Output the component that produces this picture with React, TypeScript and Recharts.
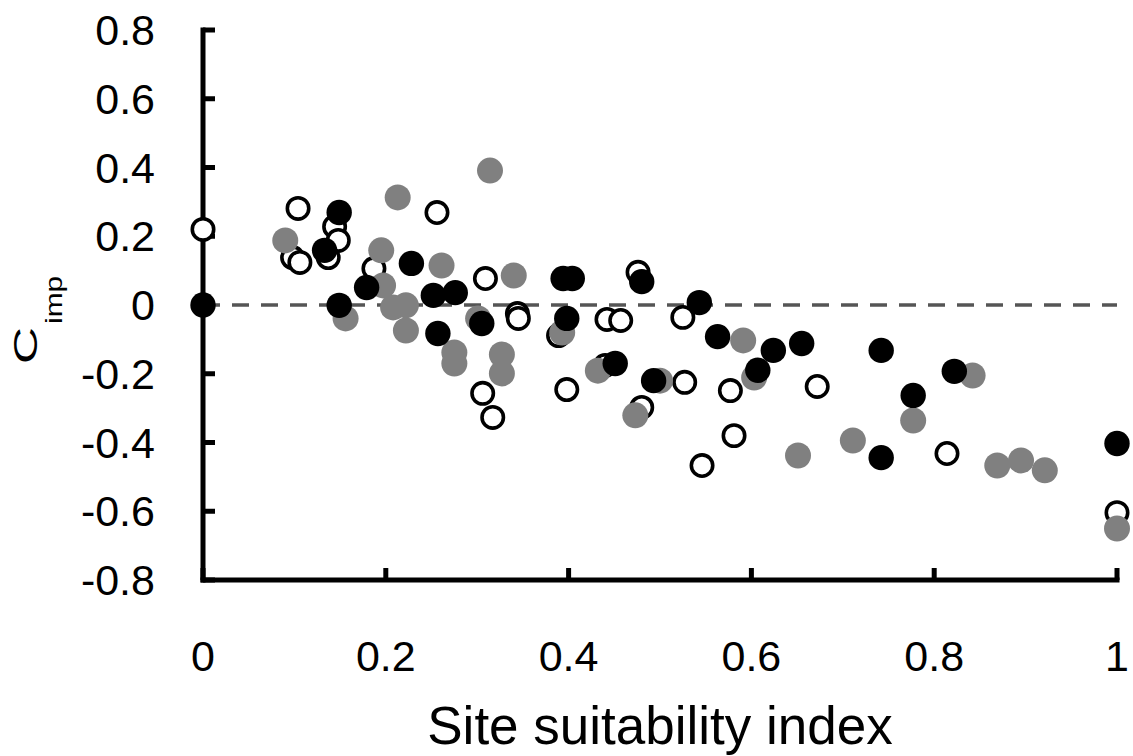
import React from 'react';
import {
  ScatterChart,
  Scatter,
  XAxis,
  YAxis,
  ReferenceLine
} from 'recharts';

// open circles
const openPoints = [
  { x: 0, y: 0.22 },
  { x: 0.104, y: 0.281 },
  { x: 0.144, y: 0.228 },
  { x: 0.148, y: 0.188 },
  { x: 0.098, y: 0.138 },
  { x: 0.106, y: 0.124 },
  { x: 0.137, y: 0.138 },
  { x: 0.256, y: 0.269 },
  { x: 0.187, y: 0.106 },
  { x: 0.309, y: 0.077 },
  { x: 0.306, y: -0.257 },
  { x: 0.317, y: -0.327 },
  { x: 0.344, y: -0.025 },
  { x: 0.345, y: -0.039 },
  { x: 0.389, y: -0.089 },
  { x: 0.398, y: -0.246 },
  { x: 0.442, y: -0.042 },
  { x: 0.457, y: -0.045 },
  { x: 0.44, y: -0.176 },
  { x: 0.476, y: 0.095 },
  { x: 0.48, y: -0.298 },
  { x: 0.525, y: -0.036 },
  { x: 0.527, y: -0.225 },
  { x: 0.577, y: -0.249 },
  { x: 0.581, y: -0.38 },
  { x: 0.546, y: -0.467 },
  { x: 0.672, y: -0.237 },
  { x: 0.814, y: -0.432 },
  { x: 1, y: -0.604 }
];

// grey circles
const greyPoints = [
  { x: 0.09, y: 0.188 },
  { x: 0.213, y: 0.313 },
  { x: 0.195, y: 0.159 },
  { x: 0.197, y: 0.057 },
  { x: 0.156, y: -0.039 },
  { x: 0.208, y: -0.007 },
  { x: 0.222, y: -0.001 },
  { x: 0.222, y: -0.074 },
  { x: 0.261, y: 0.115 },
  { x: 0.301, y: -0.039 },
  { x: 0.275, y: -0.138 },
  { x: 0.275, y: -0.17 },
  { x: 0.314, y: 0.391 },
  { x: 0.34, y: 0.086 },
  { x: 0.327, y: -0.144 },
  { x: 0.327, y: -0.199 },
  { x: 0.393, y: -0.08 },
  { x: 0.432, y: -0.191 },
  { x: 0.5, y: -0.22 },
  { x: 0.473, y: -0.321 },
  { x: 0.591, y: -0.103 },
  { x: 0.603, y: -0.211 },
  { x: 0.651, y: -0.438 },
  { x: 0.711, y: -0.394 },
  { x: 0.777, y: -0.336 },
  { x: 0.842, y: -0.205 },
  { x: 0.869, y: -0.467 },
  { x: 0.895, y: -0.452 },
  { x: 0.921, y: -0.481 },
  { x: 1, y: -0.65 }
];

// black circles
const blackPoints = [
  { x: 0, y: 0 },
  { x: 0.149, y: 0.269 },
  { x: 0.133, y: 0.159 },
  { x: 0.179, y: 0.051 },
  { x: 0.149, y: -0.001 },
  { x: 0.228, y: 0.121 },
  { x: 0.252, y: 0.028 },
  { x: 0.276, y: 0.036 },
  { x: 0.257, y: -0.083 },
  { x: 0.305, y: -0.054 },
  { x: 0.394, y: 0.077 },
  { x: 0.404, y: 0.077 },
  { x: 0.48, y: 0.068 },
  { x: 0.398, y: -0.039 },
  { x: 0.451, y: -0.17 },
  { x: 0.493, y: -0.22 },
  { x: 0.543, y: 0.007 },
  { x: 0.563, y: -0.092 },
  { x: 0.624, y: -0.132 },
  { x: 0.607, y: -0.19 },
  { x: 0.655, y: -0.112 },
  { x: 0.742, y: -0.132 },
  { x: 0.742, y: -0.444 },
  { x: 0.777, y: -0.263 },
  { x: 0.822, y: -0.193 },
  { x: 1, y: -0.403 }
];

const xTicks = [0, 0.2, 0.4, 0.6, 0.8, 1];
const yTicks = [0.8, 0.6, 0.4, 0.2, 0, -0.2, -0.4, -0.6, -0.8];

const FONT = "'Liberation Sans', Arial, sans-serif";
const axisStyle = { stroke: '#000', strokeWidth: 5, strokeLinecap: 'square' as const };

const OpenDot = (props: any) => (
  <circle cx={props.cx} cy={props.cy} r={10.7} fill='#fff' stroke='#000' strokeWidth={3.6} />
);
const GreyDot = (props: any) => (
  <circle cx={props.cx} cy={props.cy} r={13} fill='#808080' />
);
const BlackDot = (props: any) => (
  <circle cx={props.cx} cy={props.cy} r={12.7} fill='#000' />
);

const XTick = (props: any) => (
  <text
    x={props.x}
    y={props.y + 103}
    textAnchor='middle'
    fontSize={43}
    fontFamily={FONT}
    fill='#000'
  >
    {props.payload.value}
  </text>
);

const YTick = (props: any) => (
  <text
    x={props.x - 60}
    y={props.y + 15}
    textAnchor='end'
    fontSize={43}
    fontFamily={FONT}
    fill='#000'
  >
    {props.payload.value}
  </text>
);

export default function App() {
  return (
    <div style={{ position: 'absolute', left: 0, top: 0, width: 1133, height: 756, background: '#fff' }}>
      <ScatterChart
        width={1133}
        height={756}
        margin={{ top: 30, right: 16, left: 0, bottom: 0 }}
      >
        <XAxis
          type='number'
          dataKey='x'
          domain={[0, 1]}
          ticks={xTicks}
          height={176}
          axisLine={axisStyle}
          tickLine={{ stroke: '#000', strokeWidth: 5 }}
          tickSize={-12}
          tickMargin={0}
          tick={<XTick />}
          interval={0}
        />
        <YAxis
          type='number'
          dataKey='y'
          domain={[-0.8, 0.8]}
          ticks={yTicks}
          width={203}
          axisLine={axisStyle}
          tickLine={{ stroke: '#000', strokeWidth: 5 }}
          tickSize={-12}
          tickMargin={0}
          tick={<YTick />}
          interval={0}
        />
        <ReferenceLine y={0} stroke='#555' strokeWidth={3.5} strokeDasharray='17 12' />
        <Scatter data={openPoints} shape={OpenDot} isAnimationActive={false} />
        <Scatter data={greyPoints} shape={GreyDot} isAnimationActive={false} />
        <Scatter data={blackPoints} shape={BlackDot} isAnimationActive={false} />
        {/* y label: C with subscript imp, stretched like the original */}
        <text
          transform='translate(37, 364) rotate(-90) scale(1.55, 1)'
          fontSize={33}
          fontFamily={FONT}
          fill='#000'
        >
          C
        </text>
        <text
          transform='translate(62, 324) rotate(-90) scale(1.3, 1)'
          fontSize={23}
          fontFamily={FONT}
          fill='#000'
        >
          imp
        </text>
        <text
          x={660}
          y={744}
          textAnchor='middle'
          fontSize={53}
          fontFamily={FONT}
          fill='#000'
        >
          Site suitability index
        </text>
      </ScatterChart>
    </div>
  );
}
